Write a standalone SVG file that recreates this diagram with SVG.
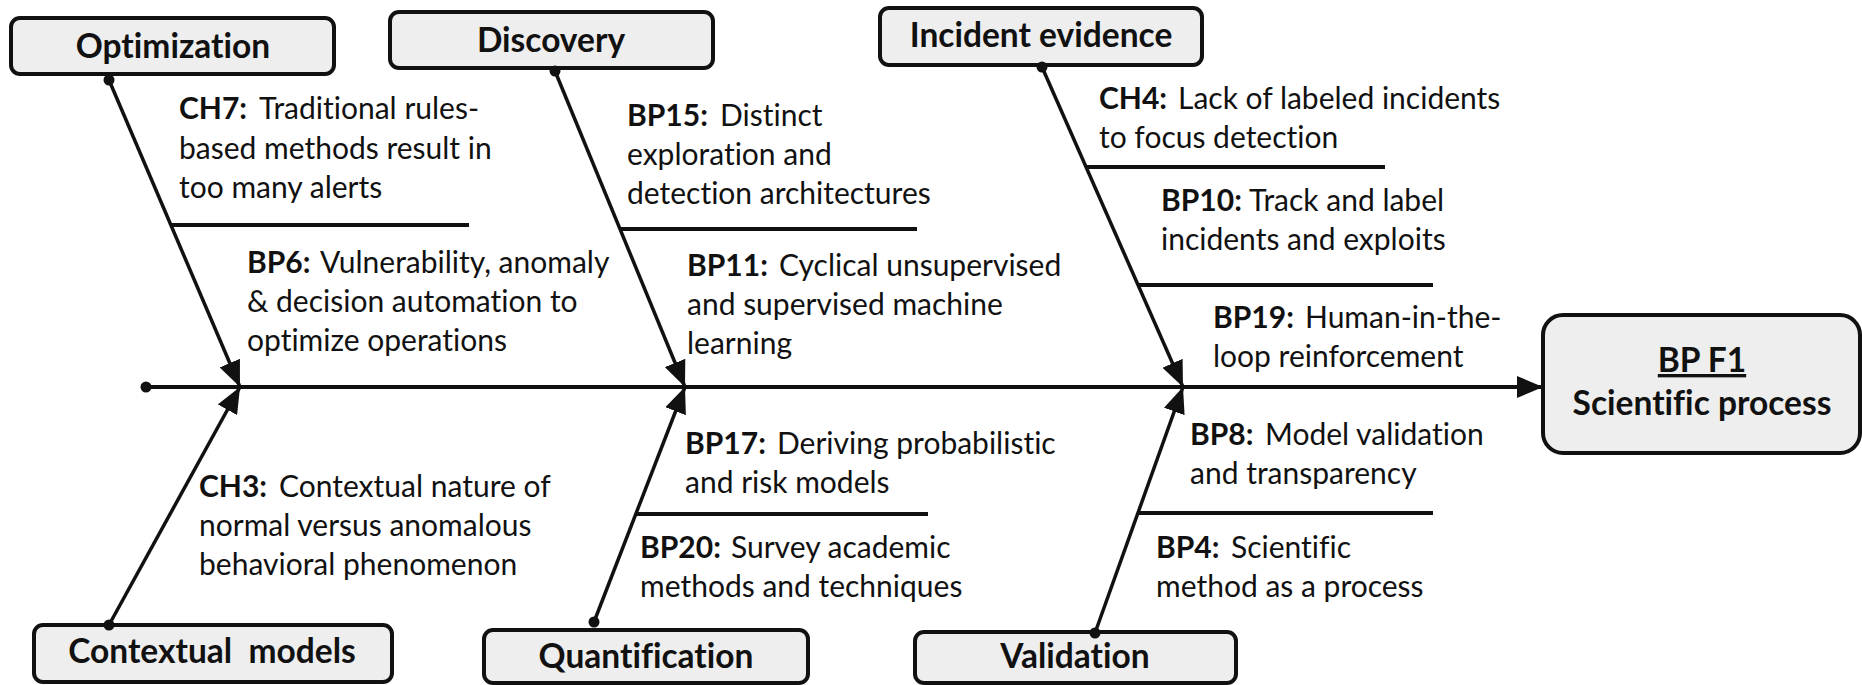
<svg xmlns="http://www.w3.org/2000/svg" width="1862" height="685" viewBox="0 0 1862 685">
  <style>
    .box{fill:#eeeeee;stroke:#111;stroke-width:4}
    .title{font-family:Lato,"Liberation Sans",sans-serif;font-weight:700;font-size:33.5px;fill:#111;text-anchor:middle;font-variant-ligatures:none}
    .body{font-family:Lato,"Liberation Sans",sans-serif;font-size:30px;fill:#111;font-variant-ligatures:none}
    .b{font-weight:700}
    .bone{stroke:#111;stroke-width:3.5;fill:none;marker-end:url(#arr)}
    .spine{stroke:#111;stroke-width:4;fill:none;marker-end:url(#arr)}
    .rib{stroke:#111;stroke-width:4}
    .dot{fill:#111}
  </style>
  <defs>
    <marker id="arr" viewBox="0 0 26 22" refX="26" refY="11" markerWidth="26" markerHeight="22" markerUnits="userSpaceOnUse" orient="auto">
      <path d="M0,0 L26,11 L0,22 Z" fill="#111"/>
    </marker>
  </defs>

  <!-- connectors: spine, bones and ribs -->
  <g id="connectors">
    <line class="spine" x1="146" y1="387" x2="1543" y2="387"/>
    <circle class="dot" cx="146" cy="387" r="5.5"/>
    <line class="bone" x1="109" y1="80" x2="240" y2="387"/>
    <line class="bone" x1="109" y1="625" x2="240" y2="387"/>
    <line class="bone" x1="555" y1="71" x2="685" y2="387"/>
    <line class="bone" x1="594" y1="622" x2="685" y2="387"/>
    <line class="bone" x1="1042" y1="67" x2="1183" y2="387"/>
    <line class="bone" x1="1095" y1="633" x2="1183" y2="387"/>
    <line class="rib" x1="172" y1="225" x2="469" y2="225"/>
    <line class="rib" x1="620" y1="229" x2="917" y2="229"/>
    <line class="rib" x1="1087" y1="167" x2="1385" y2="167"/>
    <line class="rib" x1="1139" y1="285" x2="1433" y2="285"/>
    <line class="rib" x1="635" y1="514" x2="928" y2="514"/>
    <line class="rib" x1="1137" y1="513" x2="1433" y2="513"/>
  </g>

  <!-- category boxes -->
  <g id="optimization">
    <rect class="box" x="11" y="18" width="323" height="56" rx="9"/>
    <circle class="dot" cx="109" cy="80" r="5.5"/>
    <text class="title" x="173" y="58">Optimization</text>
  </g>
  <g id="discovery">
    <rect class="box" x="390" y="12" width="323" height="56" rx="9"/>
    <circle class="dot" cx="555" cy="71" r="5.5"/>
    <text class="title" x="551" y="52">Discovery</text>
  </g>
  <g id="incident-evidence">
    <rect class="box" x="880" y="8" width="322" height="57" rx="9"/>
    <circle class="dot" cx="1042" cy="67" r="5.5"/>
    <text class="title" x="1041" y="47">Incident evidence</text>
  </g>
  <g id="contextual-models">
    <rect class="box" x="34" y="625" width="358" height="57" rx="9"/>
    <circle class="dot" cx="109" cy="625" r="5.5"/>
    <text class="title" x="212" y="663" xml:space="preserve">Contextual  models</text>
  </g>
  <g id="quantification">
    <rect class="box" x="484" y="630" width="324" height="53" rx="9"/>
    <circle class="dot" cx="594" cy="622" r="5.5"/>
    <text class="title" x="646" y="668">Quantification</text>
  </g>
  <g id="validation">
    <rect class="box" x="915" y="632" width="321" height="51" rx="9"/>
    <circle class="dot" cx="1095" cy="633" r="5.5"/>
    <text class="title" x="1075" y="668">Validation</text>
  </g>
  <g id="bp-f1">
    <rect class="box" x="1543" y="315" width="317" height="138" rx="20"/>
    <text class="title" x="1702" y="372" text-decoration="underline">BP F1</text>
    <text class="title" x="1702" y="415">Scientific process</text>
  </g>

  <!-- cause labels -->
  <g id="ch7">
    <text class="body"><tspan class="b" x="179" y="119">CH7:</tspan><tspan x="259" y="119">Traditional rules-</tspan><tspan x="179" y="159">based methods result in</tspan><tspan x="179" y="198">too many alerts</tspan></text>
  </g>
  <g id="bp6">
    <text class="body"><tspan class="b" x="247" y="273">BP6:</tspan><tspan x="320" y="273">Vulnerability, anomaly</tspan><tspan x="247" y="312">&amp; decision automation to</tspan><tspan x="247" y="351">optimize operations</tspan></text>
  </g>
  <g id="bp15">
    <text class="body"><tspan class="b" x="627" y="126">BP15:</tspan><tspan x="720" y="126">Distinct</tspan><tspan x="627" y="165">exploration and</tspan><tspan x="627" y="204">detection architectures</tspan></text>
  </g>
  <g id="bp11">
    <text class="body"><tspan class="b" x="687" y="276">BP11:</tspan><tspan x="779" y="276">Cyclical unsupervised</tspan><tspan x="687" y="315">and supervised machine</tspan><tspan x="687" y="354">learning</tspan></text>
  </g>
  <g id="ch4">
    <text class="body"><tspan class="b" x="1099" y="109">CH4:</tspan><tspan x="1178" y="109">Lack of labeled incidents</tspan><tspan x="1099" y="148">to focus detection</tspan></text>
  </g>
  <g id="bp10">
    <text class="body"><tspan class="b" x="1161" y="211">BP10:</tspan><tspan x="1249" y="211">Track and label</tspan><tspan x="1161" y="250">incidents and exploits</tspan></text>
  </g>
  <g id="bp19">
    <text class="body"><tspan class="b" x="1213" y="328">BP19:</tspan><tspan x="1305" y="328">Human-in-the-</tspan><tspan x="1213" y="367">loop reinforcement</tspan></text>
  </g>
  <g id="ch3">
    <text class="body"><tspan class="b" x="199" y="497">CH3:</tspan><tspan x="279" y="497">Contextual nature of</tspan><tspan x="199" y="536">normal versus anomalous</tspan><tspan x="199" y="575">behavioral phenomenon</tspan></text>
  </g>
  <g id="bp17">
    <text class="body"><tspan class="b" x="685" y="454">BP17:</tspan><tspan x="777" y="454">Deriving probabilistic</tspan><tspan x="685" y="493">and risk models</tspan></text>
  </g>
  <g id="bp20">
    <text class="body"><tspan class="b" x="640" y="558">BP20:</tspan><tspan x="731" y="558">Survey academic</tspan><tspan x="640" y="597">methods and techniques</tspan></text>
  </g>
  <g id="bp8">
    <text class="body"><tspan class="b" x="1190" y="445">BP8:</tspan><tspan x="1265" y="445">Model validation</tspan><tspan x="1190" y="484">and transparency</tspan></text>
  </g>
  <g id="bp4">
    <text class="body"><tspan class="b" x="1156" y="558">BP4:</tspan><tspan x="1231" y="558">Scientific</tspan><tspan x="1156" y="597">method as a process</tspan></text>
  </g>
</svg>
